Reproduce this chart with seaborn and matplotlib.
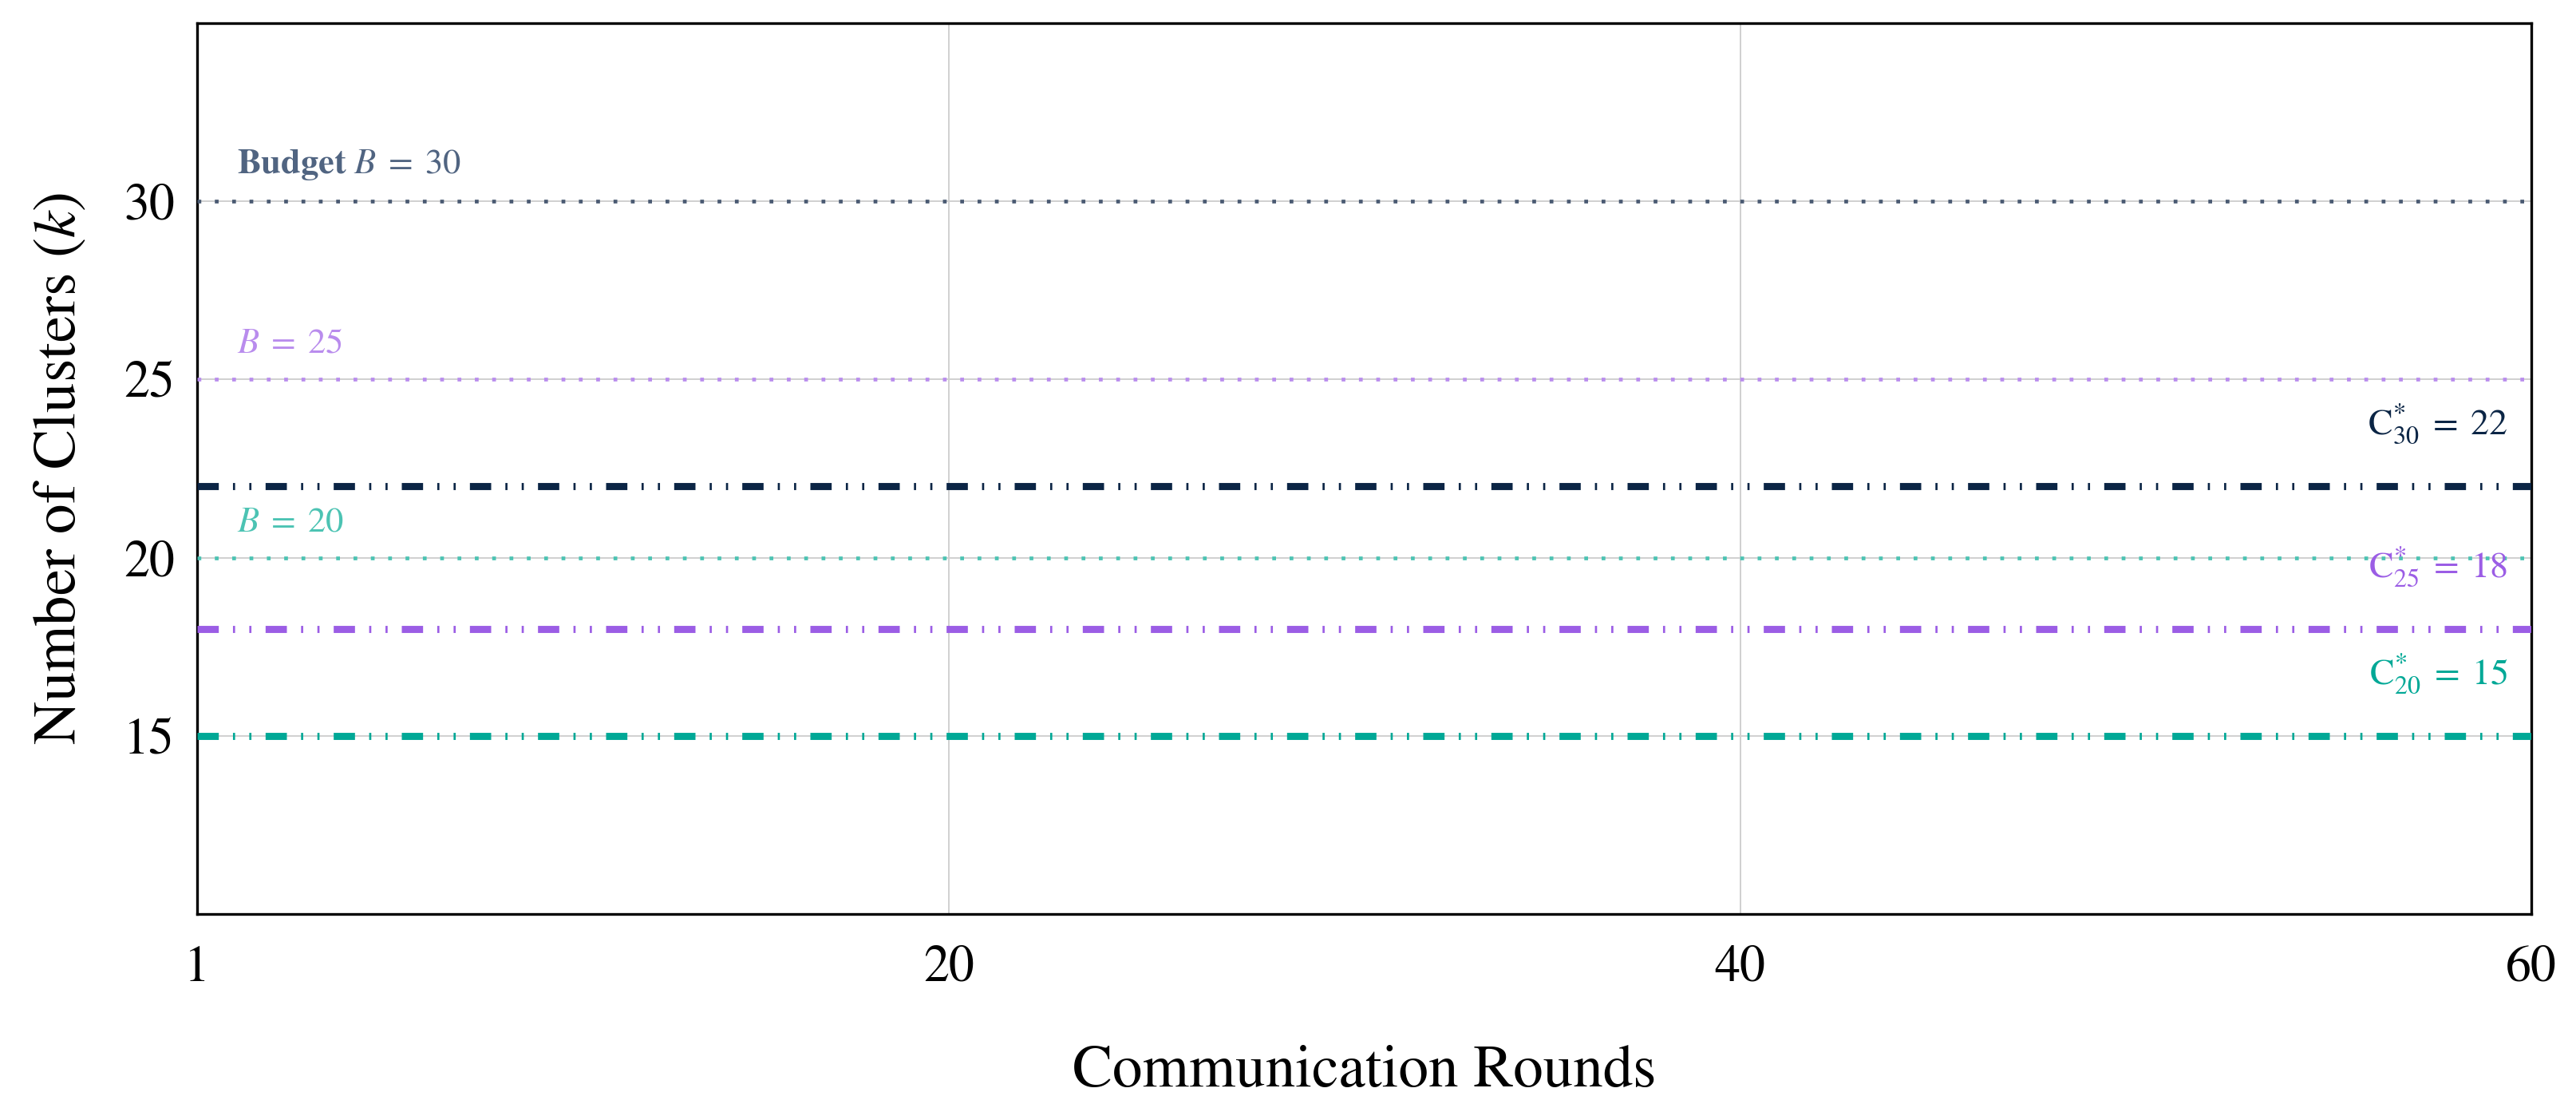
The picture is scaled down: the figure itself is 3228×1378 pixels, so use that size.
import matplotlib
matplotlib.use('Agg')
import matplotlib.pyplot as plt
import seaborn as sns
import pandas as pd

# data
rounds = [1, 60]
budgets = [30, 25, 20]
optimal_k = [22, 18, 15]
budget_colors = ['#4a5a72', '#b98ced', '#4cc3b3']
budget_text_colors = ['#506481', '#b98ced', '#4cc3b3']
opt_colors = ['#0b2545', '#9b5de5', '#00a896']
x_ticks = [1, 20, 40, 60]
y_ticks = [15, 20, 25, 30]

sns.set_theme(style='white')
plt.rcParams['font.family'] = ['STIXGeneral', 'DejaVu Serif']
plt.rcParams['mathtext.fontset'] = 'stix'
plt.rcParams['text.color'] = 'black'
plt.rcParams['axes.labelcolor'] = 'black'
plt.rcParams['xtick.color'] = 'black'
plt.rcParams['ytick.color'] = 'black'

fig, ax = plt.subplots(figsize=(16.14, 6.89), dpi=200)

for b, c in zip(budgets, budget_colors):
    df = pd.DataFrame({'round': rounds, 'k': [b, b]})
    sns.lineplot(data=df, x='round', y='k', ax=ax, color=c, linewidth=1.7,
                 linestyle=(0, (1.0, 3.6)), zorder=3)

for k, c in zip(optimal_k, opt_colors):
    df = pd.DataFrame({'round': rounds, 'k': [k, k]})
    sns.lineplot(data=df, x='round', y='k', ax=ax, color=c, linewidth=3.2,
                 linestyle=(0, (3.0, 2.0, 0.3, 2.0, 0.3, 2.0)), zorder=4)

# labels for budgets (left)
fs = 16
for i, (b, c) in enumerate(zip(budgets, budget_text_colors)):
    if i == 0:
        label = r'$\mathbf{Budget}\ B\;=\;%d$' % b
    else:
        label = r'$B\;=\;%d$' % b
    ax.text(2.0, b + 0.55, label, color=c, fontsize=fs, va='bottom', ha='left')

# labels for optimal k (right)
for b, k, c in zip(budgets, optimal_k, opt_colors):
    ax.text(59.4, k + 1.75, r'$\mathrm{C}^{*}_{%d}\;=\;%d$' % (b, k), color=c,
            fontsize=16.5, va='center', ha='right')

ax.set_xlim(1, 60)
ax.set_ylim(10, 35)
ax.set_xticks(x_ticks)
ax.set_yticks(y_ticks)
ax.tick_params(axis='both', labelsize=23, length=0)
ax.tick_params(axis='x', pad=14)
ax.tick_params(axis='y', pad=10)
ax.grid(True, color='#d0d0d0', linewidth=0.7, zorder=0)
ax.set_axisbelow(True)

for s in ax.spines.values():
    s.set_color('black')
    s.set_linewidth(1.2)

ax.set_xlabel('Communication Rounds', fontsize=27, labelpad=24)
ax.set_ylabel(r'Number of Clusters ($k$)', fontsize=27, labelpad=16)

fig.subplots_adjust(left=0.0765, right=0.9827, top=0.979, bottom=0.169)
fig.savefig('out.png', dpi=200)
